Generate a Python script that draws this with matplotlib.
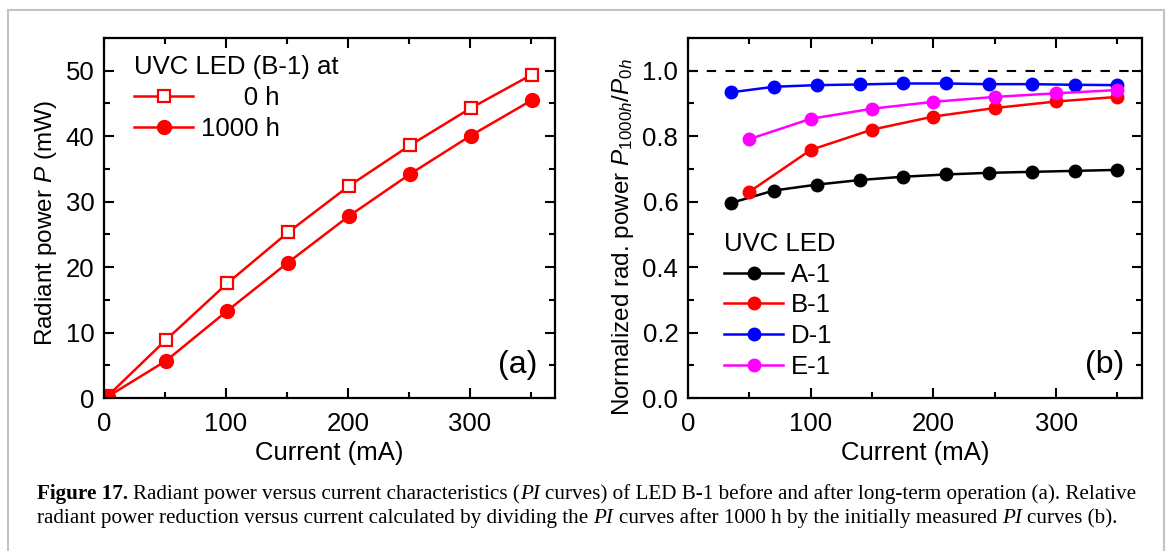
import matplotlib
matplotlib.use('Agg')
import matplotlib.pyplot as plt
from matplotlib.patches import Rectangle
from matplotlib.ticker import MultipleLocator
from matplotlib.transforms import IdentityTransform

plt.rcParams['font.family'] = ['Liberation Sans', 'DejaVu Sans']
plt.rcParams['mathtext.fontset'] = 'custom'
plt.rcParams['mathtext.rm'] = 'Liberation Sans'
plt.rcParams['mathtext.it'] = 'Liberation Sans:italic'

# (a) PI curves of LED B-1
cur_a = [3, 51, 101, 151, 201, 251, 301, 351]
p_0h = [0.3, 8.9, 17.5, 25.3, 32.4, 38.6, 44.3, 49.4]
p_1000h = [0.2, 5.7, 13.3, 20.7, 27.8, 34.2, 40.1, 45.5]

# (b) normalized radiant power P_1000h / P_0h
cur_ad = [35, 70, 105, 140, 175, 210, 245, 280, 315, 350]
cur_be = [50, 100, 150, 200, 250, 300, 350]
norm_a1 = [0.596, 0.634, 0.652, 0.666, 0.676, 0.683, 0.688, 0.691, 0.694, 0.697]
norm_b1 = [0.630, 0.758, 0.820, 0.860, 0.886, 0.906, 0.920]
norm_d1 = [0.934, 0.951, 0.956, 0.958, 0.961, 0.961, 0.959, 0.959, 0.957, 0.956]
norm_e1 = [0.791, 0.853, 0.884, 0.905, 0.920, 0.931, 0.941]

W, H = 1171, 551
fig = plt.figure(figsize=(W / 100, H / 100), dpi=100)

# light grey frame around the figure
fig.patches.append(Rectangle((8 / W, -0.05), (1164 - 8) / W, 1.05 - 10 / H,
                             transform=fig.transFigure, fill=False,
                             edgecolor='#c4c4c4', linewidth=1.5))


def px_axes(x0, x1, y0, y1):
    return fig.add_axes([x0 / W, 1 - y1 / H, (x1 - x0) / W, (y1 - y0) / H])


FS = 18.5   # horizontal texts
FSY = 17.5  # rotated axis labels


def style_axes(ax):
    for s in ax.spines.values():
        s.set_linewidth(1.6)
    ax.tick_params(which='both', direction='in', top=True, right=True,
                   width=1.5, labelsize=FS)
    ax.tick_params(axis='y', which='both', pad=7)
    ax.tick_params(axis='x', which='both', pad=10)
    ax.tick_params(which='major', length=7)
    ax.tick_params(which='minor', length=4)


ax1 = px_axes(104, 555, 38, 398)
ax1.plot(cur_a, p_0h, color='red', lw=1.8, marker='s', ms=8, mfc='white',
         mec='red', mew=1.6, label='      0 h')
ax1.plot(cur_a, p_1000h, color='red', lw=1.8, marker='o', ms=10,
         label='1000 h')
ax1.set_xlim(0, 370)
ax1.set_ylim(0, 55)
ax1.xaxis.set_major_locator(MultipleLocator(100))
ax1.xaxis.set_minor_locator(MultipleLocator(50))
ax1.yaxis.set_major_locator(MultipleLocator(10))
ax1.yaxis.set_minor_locator(MultipleLocator(5))
style_axes(ax1)
ax1.set_xlabel('Current (mA)', fontsize=FS, labelpad=4)
ax1.set_ylabel('Radiant power $\\it{P}$ (mW)', fontsize=FSY)
ax1.yaxis.set_label_coords(-(104 - 59) / 451, 1 - (223 - 38) / 360)
ax1.text(0.96, 0.05, '(a)', transform=ax1.transAxes, fontsize=23,
         ha='right', va='bottom')
leg1 = ax1.legend(title='UVC LED (B-1) at', loc='upper left',
                  bbox_to_anchor=(30 / 451, 1 - 17 / 360), frameon=False,
                  fontsize=FS, title_fontsize=FS, alignment='left',
                  handlelength=2.3, handletextpad=0.3, labelspacing=0.27,
                  borderpad=0, borderaxespad=0)

ax2 = px_axes(688, 1142, 38, 398)
ax2.axhline(1.0, color='black', lw=1.5, dashes=(4.5, 4.5))
ax2.plot(cur_ad, norm_a1, color='black', lw=1.8, marker='o', ms=9, label='A-1')
ax2.plot(cur_be, norm_b1, color='red', lw=1.8, marker='o', ms=9, label='B-1')
ax2.plot(cur_ad, norm_d1, color='blue', lw=1.8, marker='o', ms=9, label='D-1')
ax2.plot(cur_be, norm_e1, color='magenta', lw=1.8, marker='o', ms=9, label='E-1')
ax2.set_xlim(0, 370)
ax2.set_ylim(0, 1.1)
ax2.xaxis.set_major_locator(MultipleLocator(100))
ax2.xaxis.set_minor_locator(MultipleLocator(50))
ax2.yaxis.set_major_locator(MultipleLocator(0.2))
ax2.yaxis.set_minor_locator(MultipleLocator(0.1))
ax2.yaxis.set_major_formatter(lambda v, p: f'{v:.1f}')
style_axes(ax2)
ax2.set_xlabel('Current (mA)', fontsize=FS, labelpad=4)
ax2.set_ylabel('Normalized rad. power $P_{\\mathit{1000h}}/P_{\\mathit{0h}}$',
               fontsize=FSY)
ax2.yaxis.set_label_coords(-(688 - 636) / 454, 1 - (237 - 38) / 360)
ax2.text(0.96, 0.05, '(b)', transform=ax2.transAxes, fontsize=23,
         ha='right', va='bottom')
leg2 = ax2.legend(title='UVC LED', loc='upper left',
                  bbox_to_anchor=(36 / 454, 1 - 194 / 360), frameon=False,
                  fontsize=FS, title_fontsize=FS, alignment='left',
                  handlelength=2.3, handletextpad=0.3, labelspacing=0.26,
                  borderpad=0, borderaxespad=0)

# caption, drawn piece by piece so bold and italic parts sit inline
line1 = [('Figure 17.', 'bold', 'normal', False),
         ('Radiant power versus current characteristics (', 'normal', 'normal', True),
         ('PI', 'normal', 'italic', False),
         ('curves) of LED B-1 before and after long-term operation (a). Relative',
          'normal', 'normal', True)]
line2 = [('radiant power reduction versus current calculated by dividing the',
          'normal', 'normal', False),
         ('PI', 'normal', 'italic', True),
         ('curves after 1000 h by the initially measured', 'normal', 'normal', True),
         ('PI', 'normal', 'italic', True),
         ('curves (b).', 'normal', 'normal', True)]

renderer = fig.canvas.get_renderer()
CAP_FONT = 'Liberation Serif'


def text_w(s, size, weight='normal', style='normal'):
    t = fig.text(0, 0, s, fontsize=size, fontweight=weight, fontstyle=style,
                 family=CAP_FONT, transform=IdentityTransform())
    w = t.get_window_extent(renderer).width
    t.remove()
    return w


def draw_line(parts, x, y, size, draw=True):
    sp = text_w('x x', size) - text_w('xx', size)
    for s, weight, style, space in parts:
        if space:
            x += sp
        t = fig.text(x, y, s, fontsize=size, fontweight=weight, fontstyle=style,
                     family=CAP_FONT, transform=IdentityTransform(), va='baseline')
        x += t.get_window_extent(renderer).width
        if not draw:
            t.remove()
    return x


x_start = 37
size0 = 13.0
w0 = draw_line(line1, x_start, 0, size0, draw=False) - x_start
cap_size = size0 * (1132 - x_start) / w0
draw_line(line1, x_start, H - 499, cap_size)
draw_line(line2, x_start, H - 523, cap_size)

fig.savefig('out.png', dpi=100)
